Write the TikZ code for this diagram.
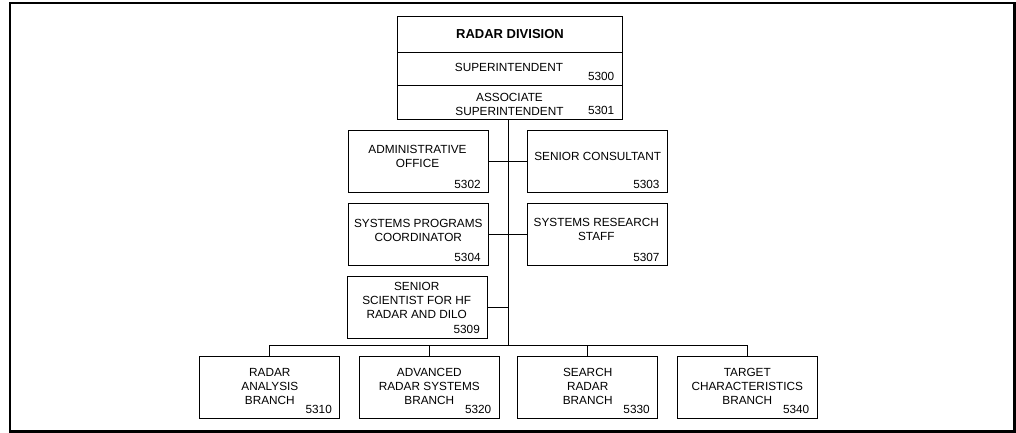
\documentclass[tikz,border=0pt]{standalone}
\usepackage{fontspec}
\setmainfont{Liberation Sans}
\usepackage{tikz}
\tikzstyle{every picture}+=[line width=0.8pt]
\tikzstyle{unit}=[draw, minimum width=140pt, minimum height=62pt, inner sep=0pt]
\tikzstyle{head}=[draw, minimum width=224.6pt, inner sep=0pt]
\tikzstyle{lbl}=[align=center, inner sep=0pt, font=\fontsize{11.8}{14}\selectfont]
\tikzstyle{num}=[anchor=base east, inner sep=0pt, xshift=-8pt, yshift=5pt,
  font=\fontsize{11.8}{14}\selectfont]

\begin{document}
\begin{tikzpicture}[x=1pt,y=-1pt]
        \useasboundingbox (0,0) rectangle (1016,433);
        \draw[line width=2.5pt] (10,3) rectangle (1014.5,431.5);
        % division head
        \node[head, minimum height=36.3pt,
          font=\bfseries\fontsize{13}{15}\selectfont] (ndiv) at
        (510,34.15) {RADAR DIVISION};%
        \node[head, minimum height=32.7pt] (nsup) at (510,68.65) {};
        \node[lbl] (tsup) at (509,67.4) {SUPERINTENDENT};%
        \node[num] (n5300) at (nsup.south east) {5300};
        \node[head, minimum height=34.3pt] (nassoc) at (510,102.15) {};
        \node[lbl] (tassoc) at (509.5,104)
        {ASSOCIATE\\SUPERINTENDENT};%
        \node[num] (n5301) at (nassoc.south east) {5301};
        % staff, left
        \node[unit] (nadmin) at (418.65,161.85) {};
        \node[lbl] (tadmin) at (417.5,156.6)
        {ADMINISTRATIVE\\OFFICE};%
        \node[num] (n5302) at (nadmin.south east) {5302};
        \node[unit] (nprogs) at (418.65,234.85) {};
        \node[lbl] (tprogs) at (418.3,230.4)
        {SYSTEMS PROGRAMS\\COORDINATOR};%
        \node[num] (n5304) at (nprogs.south east) {5304};
        \node[unit] (nscient) at (417.85,307) {};
        \node[lbl] (tscient) at (416.7,300.4)
        {SENIOR\\SCIENTIST FOR HF\\RADAR AND DILO};%
        \node[num] (n5309) at (nscient.south east) {5309};
        % staff, right
        \node[unit] (nconsult) at (597.5,161.85) {};
        \node[lbl] (tconsult) at (597.7,156.7) {SENIOR CONSULTANT};%
        \node[num] (n5303) at (nconsult.south east) {5303};
        \node[unit] (nresearch) at (597.5,234.85) {};
        \node[lbl] (tresearch) at (596.3,229.7)
        {SYSTEMS RESEARCH\\STAFF};%
        \node[num] (n5307) at (nresearch.south east) {5307};
        % branches
        \foreach \x/\id/\txt/\code in
        {269.85/rab/{RADAR\\ANALYSIS\\BRANCH}/5310,
          429.3/arsb/{ADVANCED\\RADAR SYSTEMS\\BRANCH}/5320,
          587.7/srb/{SEARCH\\RADAR\\BRANCH}/5330,
          747.3/tcb/{TARGET\\CHARACTERISTICS\\BRANCH}/5340}{
          \node[unit] (n\id) at (\x,387) {};
          \node[lbl] (t\id) at (\x,386.5) {\txt};%
          \node[num] (c\id) at (n\id.south east) {\code};
        }
        % links
        \coordinate (nbus) at (508.3,345.7);
        \draw (nassoc.south -| nbus) -- (nbus);
        \draw (nadmin) -- (nconsult);
        \draw (nprogs) -- (nresearch);
        \draw (nscient.east) -- (nscient.east -| nbus);
        \draw (nrab.north) |- (nbus) -| (ntcb.north);
        \draw (narsb.north) -- (narsb.north |- nbus);
        \draw (nsrb.north) -- (nsrb.north |- nbus);
\end{tikzpicture}
\end{document}
